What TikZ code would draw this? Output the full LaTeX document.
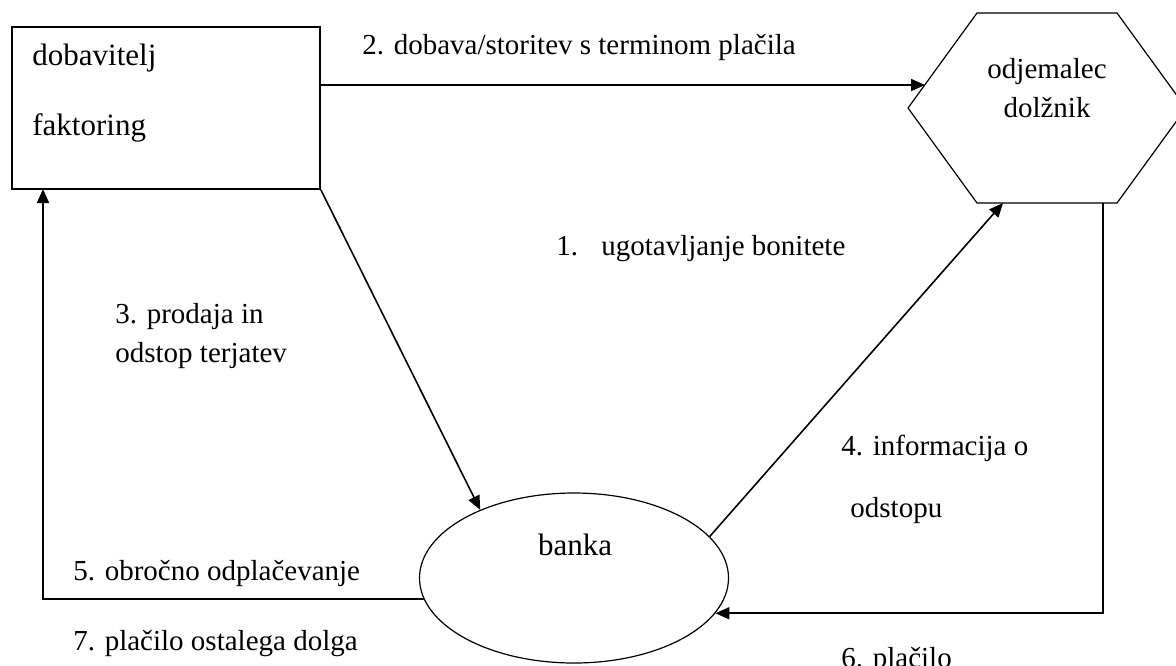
\documentclass[tikz,border=0pt]{standalone}
\usepackage{fontspec}
\setmainfont{Liberation Serif}
\usetikzlibrary{shapes.geometric, arrows.meta, calc}

\tikzset{
	arr/.style={-{Triangle[length=7pt,width=6pt]}, line width=0.8pt},
	txt/.style={font=\fontsize{14.5}{19.5}\selectfont, inner sep=0pt},
	boxtxt/.style={font=\fontsize{15.5}{20}\selectfont, inner sep=0pt},
}

\begin{document}
\begin{tikzpicture}[x=0.5pt, y=-0.5pt]
	\useasboundingbox (0,0) rectangle (1176,665);

	% dobavitelj
	\node[draw, line width=0.9pt, minimum width=154pt, minimum height=81pt, inner sep=0pt] (dob) at (166,108) {};
	\node[boxtxt, anchor=base west] (dobA) at (32,65) {dobavitelj};
	\node[boxtxt, anchor=base west] (dobB) at (32,135) {faktoring};

	% odjemalec
	\coordinate (hW) at (908,108);
	\coordinate (hNW) at (977,13);
	\coordinate (hNE) at (1117,13);
	\coordinate (hE) at (1186,108);
	\coordinate (hSE) at (1117,203);
	\coordinate (hSW) at (977,203);
	\draw[line width=0.6pt] (hW) -- (hNW) -- (hNE) -- (hE) -- (hSE) -- (hSW) -- cycle;
	\node[txt, align=center, anchor=north] (odj) at (1047,58) {odjemalec\\dolžnik};

	% banka
	\node[draw, ellipse, line width=0.6pt, minimum width=154.5pt, minimum height=85pt, inner sep=0pt] (ban) at (574,578) {};
	\node[boxtxt, anchor=base] (banT) at (575,555) {banka};

	% free ends on the hexagon and the box
	\coordinate (c2) at (925,85);
	\coordinate (c4) at (1003,203);
	\coordinate (c6) at (1103,203);
	\coordinate (c5) at (43,189);

	\draw[arr] (dob.east |- c2) -- (c2);
	\draw[arr] (dob.south east) -- (ban.144);
	\draw[arr] (ban.17) -- (c4);
	\draw[arr] (ban.188) -| (c5);
	\draw[arr] (c6) |- (ban.-14);

	% labels
	\node[txt, anchor=base west] (l2) at (362,54) {2. dobava/storitev s terminom plačila};
	\node[txt, anchor=base west] (l1) at (556,255) {1.\hspace{0.8em}ugotavljanje bonitete};
	\node[txt, anchor=base west] (l3a) at (115,323) {3. prodaja in};
	\node[txt, anchor=base west] (l3b) at (115,362) {odstop terjatev};
	\node[txt, anchor=base west] (l4a) at (841,455) {4. informacija o};
	\node[txt, anchor=base west] (l4b) at (850,517) {odstopu};
	\node[txt, anchor=base west] (l5) at (73,580) {5. obročno odplačevanje};
	\node[txt, anchor=base west] (l7) at (73,650) {7. plačilo ostalega dolga};
	\node[txt, anchor=base west] (l6) at (841,667) {6. plačilo};
\end{tikzpicture}
\end{document}
